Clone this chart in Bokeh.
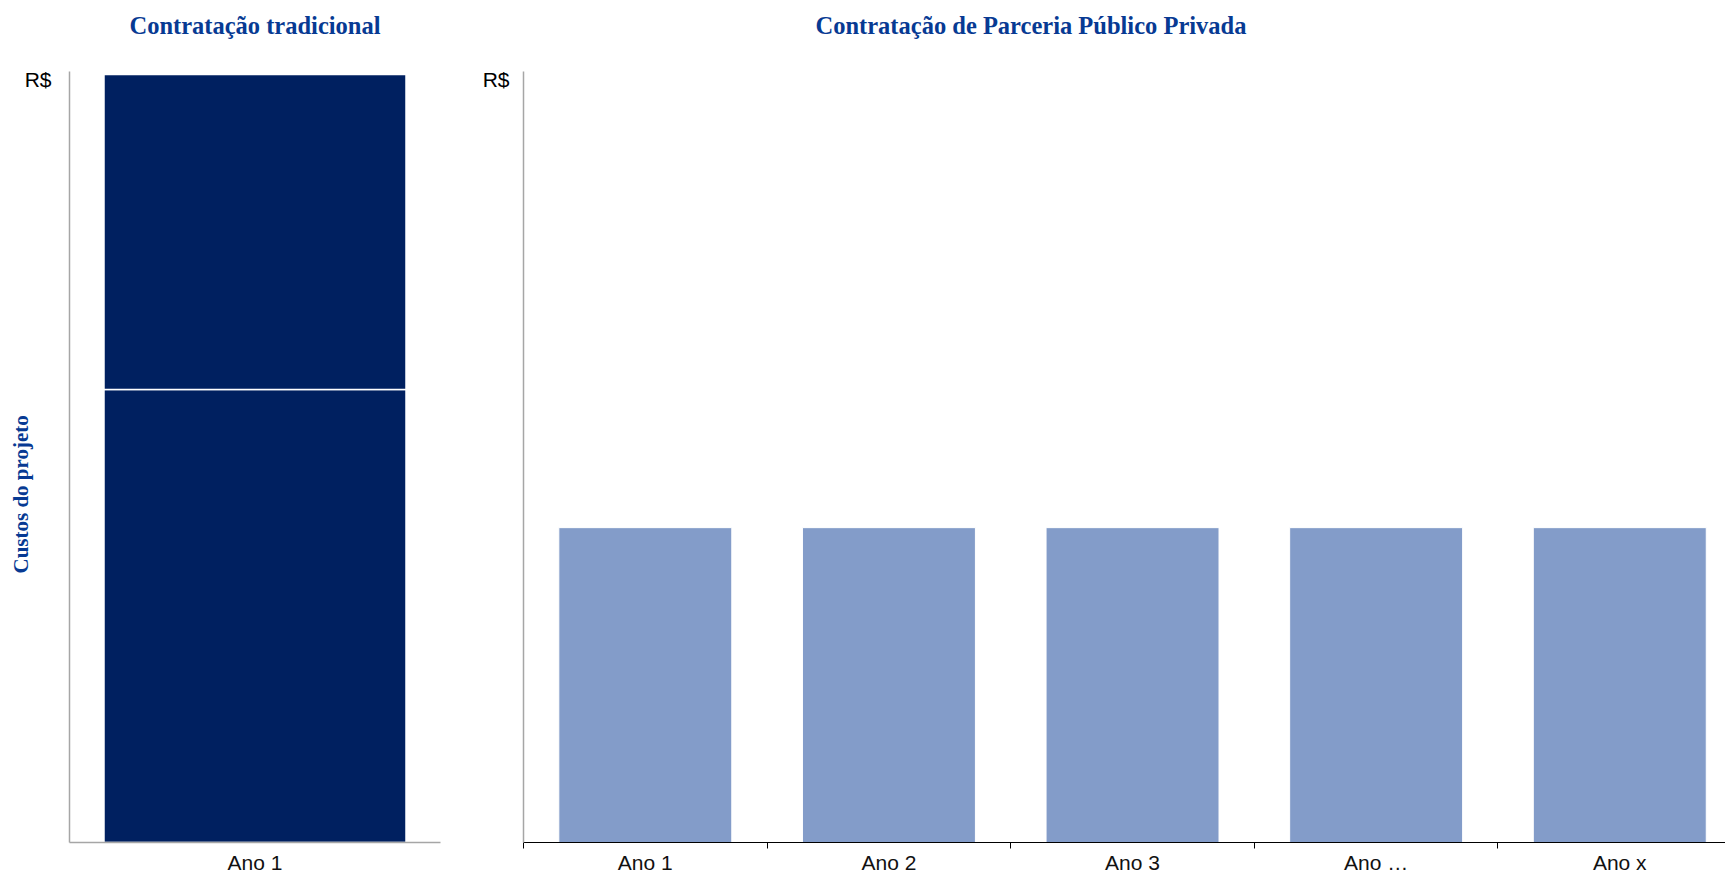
from bokeh.plotting import figure
from bokeh.models import Range1d, FixedTicker, Title, FactorRange, ColumnDataSource
from bokeh.layouts import row
from bokeh.embed import file_html
from bokeh.resources import INLINE

# ---- data ----
trad_category = ["Ano 1"]
trad_bottom = [59]
trad_top = [41]
ppp_years = ["Ano 1", "Ano 2", "Ano 3", "Ano \u2026", "Ano x"]
ppp_values = [41, 41, 41, 41, 41]
y_top_value = 100
y_top_label = "R$"
title_left = "Contrata\u00e7\u00e3o tradicional"
title_right = "Contrata\u00e7\u00e3o de Parceria P\u00fablico Privada"
y_title = "Custos do projeto"

NAVY = "#002060"
LIGHT = "#839CC9"
TITLE_BLUE = "#073a93"
SERIF = "Liberation Serif"
SANS = "Liberation Sans"

H = 877
LABEL_TICK = y_top_value - 0.7   # "R$" sits slightly below the top of the axis

def add_titles(p, text, align, offset):
    # spacer between the frame and the title
    p.add_layout(Title(text=" ", text_font_size="20px", standoff=0), "above")
    p.add_layout(Title(text=text, align=align, offset=offset, standoff=17,
                       text_font=SERIF, text_font_size="24.5px", text_font_style="bold",
                       text_color=TITLE_BLUE), "above")

def style_common(p):
    p.xgrid.grid_line_color = None
    p.ygrid.grid_line_color = None
    p.outline_line_color = None
    ya = p.yaxis[0]
    ya.ticker = FixedTicker(ticks=[LABEL_TICK])
    ya.major_label_overrides = {LABEL_TICK: y_top_label}
    ya.major_tick_line_color = None
    ya.minor_tick_line_color = None
    ya.axis_line_color = "#a6a6a6"
    ya.axis_line_width = 1.5
    ya.major_label_text_font = SANS
    ya.major_label_text_font_size = "21px"
    ya.major_label_text_color = "#000000"
    xa = p.xaxis[0]
    xa.major_label_text_font = SANS
    xa.major_label_text_font_size = "21px"
    xa.major_label_text_color = "#111111"
    xa.major_label_standoff = 2

# ---- left chart ----
p1 = figure(width=468, height=H, x_range=FactorRange(*trad_category),
            y_range=Range1d(0, 100.4), output_backend="svg", toolbar_location=None,
            min_border_left=69, min_border_right=28, min_border_top=71,
            min_border_bottom=35, title=None)
src = ColumnDataSource(dict(cat=trad_category, bottom=trad_bottom, top=trad_top))
p1.vbar_stack(["bottom", "top"], x="cat", width=0.814, source=src,
              fill_color=[NAVY, NAVY], line_color="white", line_width=1.5)
style_common(p1)
add_titles(p1, title_left, "center", 0)
p1.yaxis[0].major_label_standoff = 12
xa1 = p1.xaxis[0]
xa1.axis_line_color = "#a6a6a6"
xa1.axis_line_width = 1.5
xa1.major_tick_line_color = None
xa1.minor_tick_line_color = None

p1.add_layout(Title(text=y_title, align="left", offset=269, standoff=-22,
                    text_font=SERIF, text_font_size="21px", text_font_style="bold",
                    text_color=TITLE_BLUE), "left")

# ---- right chart ----
centers = [i + 0.5 for i in range(len(ppp_years))]
bounds = [i for i in range(len(ppp_years) + 1)]
p2 = figure(width=1257, height=H, x_range=Range1d(0, 4.934),
            y_range=Range1d(0, 100.4), output_backend="svg", toolbar_location=None,
            min_border_left=55, min_border_right=0, min_border_top=71,
            min_border_bottom=35, title=None)
p2.vbar(x=centers, top=ppp_values, width=0.71, fill_color=LIGHT,
        line_color="white", line_width=1)
style_common(p2)
add_titles(p2, title_right, "left", 292)
p2.yaxis[0].major_label_standoff = 8
xa2 = p2.xaxis[0]
xa2.ticker = FixedTicker(ticks=centers, minor_ticks=bounds)
xa2.major_label_overrides = {c: lab for c, lab in zip(centers, ppp_years)}
xa2.major_tick_in = 0
xa2.major_tick_out = 0
xa2.major_tick_line_color = None
xa2.minor_tick_in = 0
xa2.minor_tick_out = 6
xa2.minor_tick_line_color = "#000000"
xa2.axis_line_color = "#000000"
xa2.axis_line_width = 1

layout = row(p1, p2)
open("out.html", "w").write(file_html(layout, INLINE))
